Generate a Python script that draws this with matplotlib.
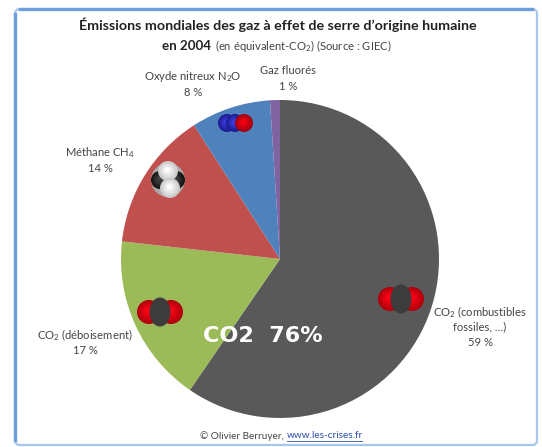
import matplotlib
matplotlib.use("Agg")
import matplotlib.pyplot as plt
import matplotlib.patches as patches
from matplotlib.colors import to_rgb

plt.rcParams['font.family'] = ['Lato', 'DejaVu Sans']
plt.rcParams['mathtext.fontset'] = 'custom'
plt.rcParams['mathtext.rm'] = 'Lato'
plt.rcParams['mathtext.default'] = 'regular'

# clockwise from the top, the percentages only add up to 99 in the source
gases = ["CO2 fossile", "CO2 deboisement", "Methane", "N2O", "Gaz fluores"]
shares = [59, 17, 14, 8, 1]
colors = ['#595959', '#9bbb59', '#c0504d', '#4f81bd', '#8064a2']

H = 447

def py(y):
    return H - y

def label(x, y, s, size=8.1, color='#444444', **kw):
    return ax.text(x, py(y), s, fontsize=size, color=color, ha='center', va='center', **kw)

def ball(x, y, r, color, light):
    # nested circles fake the shading of the molecule pictures
    c1, c2 = to_rgb(color), to_rgb(light)
    for i in range(8):
        t = i / 7
        mix = tuple(a + (b - a) * t for a, b in zip(c1, c2))
        ax.add_patch(patches.Circle((x - r * 0.08 * t, py(y) + r * 0.12 * t), r * (1 - 0.8 * t),
                                    facecolor=mix, edgecolor='none', zorder=5))

def co2(x, y):
    ball(x - 11, y, 12, '#b0000c', '#ff0014')
    ball(x + 11, y, 12, '#b0000c', '#ff0014')
    # carbon in the middle is taller than wide
    ax.add_patch(patches.Ellipse((x, py(y)), 21, 29, facecolor='#3c3c3c', edgecolor='none', zorder=6))

fig = plt.figure(figsize=(5.42, 4.47), dpi=100, facecolor='white')
ax = fig.add_axes([0, 0, 1, 1])

ax.pie(shares, colors=colors, startangle=90, counterclock=False,
       center=(280, py(259)), radius=159, wedgeprops={'linewidth': 0})
ax.set_xlim(0, 542)
ax.set_ylim(0, H)
ax.set_aspect('equal')
ax.axis('off')

# chart frame, top and left edges look heavier than the others
ax.add_patch(patches.FancyBboxPatch((15, py(445)), 522, 436, boxstyle="round,pad=0,rounding_size=5",
                                    facecolor='none', edgecolor='#a9c6ea', linewidth=1.6))
ax.plot([15, 15], [py(14), py(440)], color='#6d9fdc', linewidth=2.4)
ax.plot([20, 532], [py(9), py(9)], color='#6d9fdc', linewidth=2.4)

label(277.5, 25, "Émissions mondiales des gaz à effet de serre d’origine humaine", size=10.3, color='#222222', weight='bold')
ax.text(162, py(46), "en 2004", fontsize=9.6, color='#222222', weight='bold', ha='left', va='center')
ax.text(215, py(46), "(en équivalent-CO$_2$) (Source : GIEC)", fontsize=8.1, color='#444444', ha='left', va='center')

label(193, 76, "Oxyde nitreux N$_2$O")
label(193, 93, "8 %")
label(288, 71, "Gaz fluorés")
label(288, 86, "1 %")
label(100, 153, "Méthane CH$_4$")
label(100, 168, "14 %")
label(85, 335, "CO$_2$ (déboisement)")
label(85, 350, "17 %")
label(480, 312, "CO$_2$ (combustibles")
label(480, 327, "fossiles, …)")
label(480, 342, "59 %")

label(263, 336, "CO2  76%", size=16, color='white', weight='bold', family='DejaVu Sans')

co2(401, 299)
co2(160, 312)

# methane
ball(168, 180, 17, '#b0a8a8', '#b0a8a8')
ball(160, 180, 9, '#151515', '#404040')
ball(176, 180, 9, '#151515', '#404040')
ball(168, 171, 10, '#c8c8c8', '#ffffff')
ball(170, 188, 10, '#c8c8c8', '#ffffff')

# n2o
ball(227, 123, 9, '#1c1c90', '#3c3ce0')
ball(235, 123, 9, '#1c1c90', '#3c3ce0')
ball(244, 123, 9, '#a00010', '#f80010')

# footer
ax.text(200, py(436), "© Olivier Berruyer,", fontsize=7.2, color='#444444', ha='left', va='center')
ax.text(287, py(436), "www.les-crises.fr", fontsize=7.2, color='#2a4fb0', ha='left', va='center')
ax.plot([287, 362], [py(441), py(441)], color='#2a4fb0', linewidth=0.6)

fig.savefig("out.png", dpi=100)
